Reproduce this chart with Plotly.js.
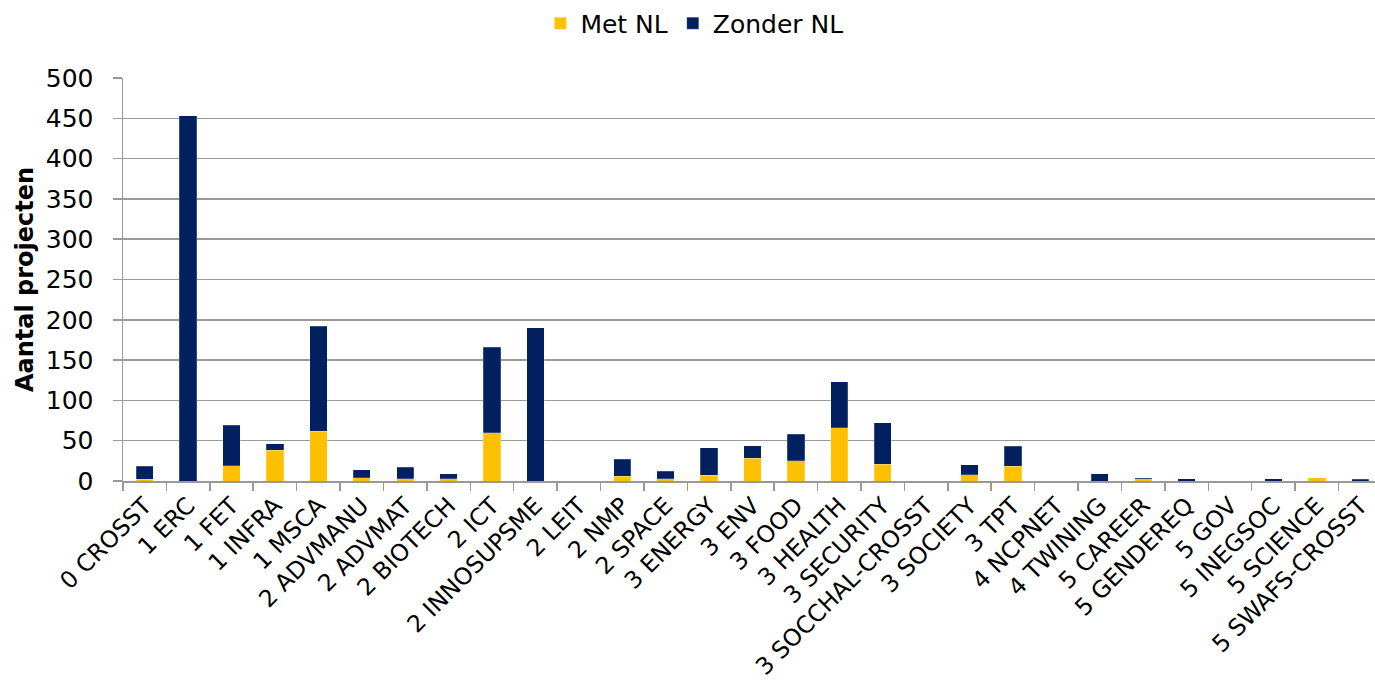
<!DOCTYPE html>
<html>
<head>
<meta charset="utf-8">
<script src="https://cdn.plot.ly/plotly-3.0.1.min.js"></script>
<style>
  html, body { margin: 0; padding: 0; background: #ffffff; }
  #chart { width: 1375px; height: 688px; }
</style>
</head>
<body>
<div id="chart"></div>
<script>
const categories = ["0 CROSST","1 ERC","1 FET","1 INFRA","1 MSCA","2 ADVMANU","2 ADVMAT","2 BIOTECH","2 ICT","2 INNOSUPSME","2 LEIT","2 NMP","2 SPACE","3 ENERGY","3 ENV","3 FOOD","3 HEALTH","3 SECURITY","3 SOCCHAL-CROSST","3 SOCIETY","3 TPT","4 NCPNET","4 TWINING","5 CAREER","5 GENDEREQ","5 GOV","5 INEGSOC","5 SCIENCE","5 SWAFS-CROSST"];
const metNL    = [2, 0, 19, 38, 62, 4, 3, 3, 60, 0, 0, 6, 3, 7, 28, 25, 66, 21, 0, 8, 18, 0, 0, 3, 0, 0, 0, 4, 0];
const zonderNL = [16, 453, 50, 8, 130, 10, 14, 6, 106, 190, 0, 21, 9, 34, 16, 33, 57, 51, 0, 12, 25, 0, 9, 1, 3, 0, 3, 0, 2];
const seriesNames = ["Met NL", "Zonder NL"];
const yTicks = [0, 50, 100, 150, 200, 250, 300, 350, 400, 450, 500];

const FONT = "DejaVu Sans, Verdana, sans-serif";

const traces = [
  { type: "bar", name: seriesNames[0], x: categories, y: metNL,
    marker: { color: "#FFC000", line: { color: "rgba(255,255,255,0.35)", width: 0.6 } } },
  { type: "bar", name: seriesNames[1], x: categories, y: zonderNL,
    marker: { color: "#002060", line: { color: "rgba(255,255,255,0.35)", width: 0.6 } } }
];

const layout = {
  width: 1375, height: 688,
  barmode: "stack",
  bargap: 0.6,
  paper_bgcolor: "#ffffff",
  plot_bgcolor: "#ffffff",
  margin: { l: 123, r: 0, t: 78, b: 207 },
  font: { family: FONT, size: 24, color: "#000000" },
  showlegend: true,
  legend: {
    orientation: "h",
    xref: "container", yref: "container",
    x: 0.505, xanchor: "center",
    y: 0.966, yanchor: "middle",
    font: { family: FONT, size: 25, color: "#000000" },
    itemclick: false, itemdoubleclick: false,
    itemwidth: 30,
    traceorder: "normal"
  },
  xaxis: {
    type: "category",
    range: [-0.5, 28.34],
    tickangle: -45,
    tickson: "boundaries",
    ticks: "outside",
    ticklen: 8,
    tickwidth: 1.5,
    tickcolor: "#999999",
    showgrid: false,
    showline: true,
    linecolor: "#999999",
    linewidth: 1.5,
    tickfont: { family: FONT, size: 23.5, color: "#000000" },
    fixedrange: true
  },
  yaxis: {
    range: [0, 500],
    tickvals: yTicks,
    ticktext: yTicks.map(String),
    ticks: "outside",
    ticklen: 9,
    tickwidth: 1.5,
    tickcolor: "#999999",
    ticklabelstandoff: 14,
    showgrid: true,
    gridcolor: "#999999",
    gridwidth: 1.5,
    showline: true,
    linecolor: "#999999",
    linewidth: 1.5,
    zeroline: false,
    tickfont: { family: FONT, size: 25, color: "#000000" },
    title: { text: "<b>Aantal projecten</b>", standoff: 5,
             font: { family: FONT, size: 24, color: "#000000" } },
    fixedrange: true
  }
};

Plotly.newPlot("chart", traces, layout, { displayModeBar: false, staticPlot: true });
</script>
</body>
</html>
